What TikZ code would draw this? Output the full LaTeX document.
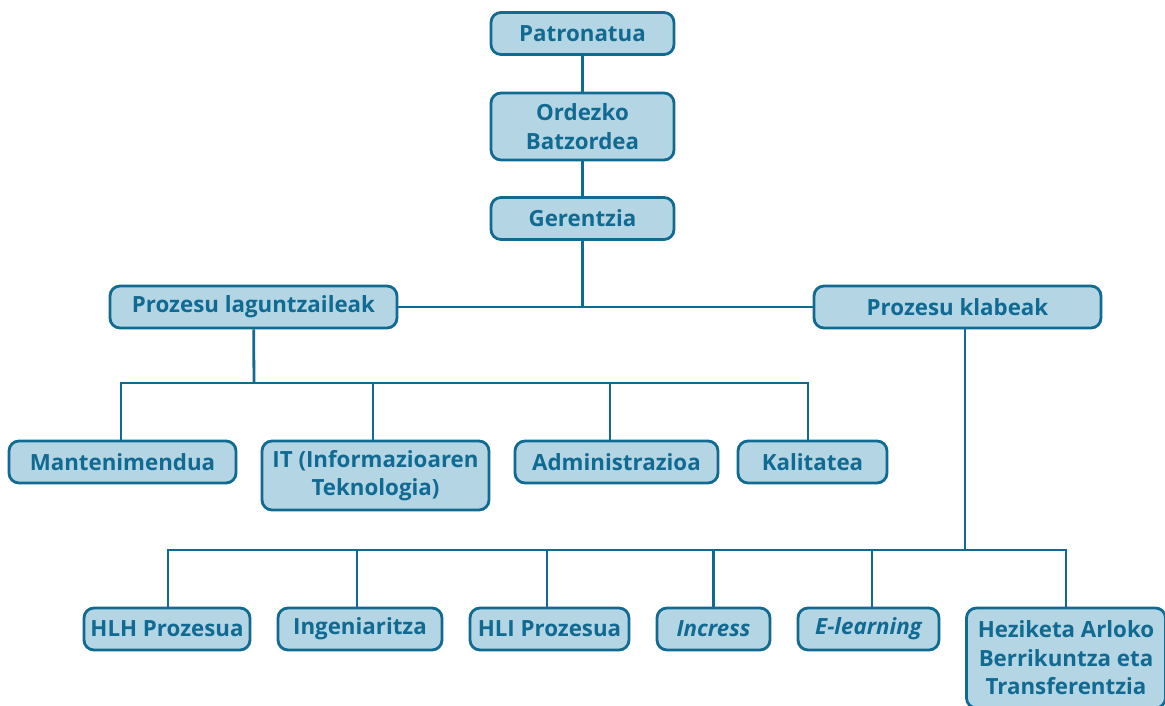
\documentclass[tikz,border=0pt]{standalone}
\usepackage{fontspec}
\setmainfont{Open Sans}
\definecolor{edge}{RGB}{16,106,145}
\definecolor{boxfill}{RGB}{180,213,228}
\begin{document}
\begin{tikzpicture}[x=1pt,y=-1pt,
  box/.style={draw=edge, fill=boxfill, line width=2.8pt, rounded corners=10pt,
    text=edge, font=\bfseries\fontsize{22.3}{28.5}\selectfont, align=center,
    inner sep=0pt, minimum height=42pt},
  link/.style={draw=edge, line width=2.8pt}]
\useasboundingbox (0,0) rectangle (1165,705);
\clip (0,0) rectangle (1165,705);
% top chain
\node[box, minimum width=183pt] (pat) at (582.5,33.5) {Patronatua};
\node[box, minimum width=183pt, minimum height=67pt] (ord) at (582.5,126.5) {Ordezko\\Batzordea};
\node[box, minimum width=183pt] (ger) at (582.5,218.5) {Gerentzia};
\node[box, minimum width=287pt] (pl) at (253.5,307) {Prozesu laguntzaileak};
\node[box, minimum width=287pt] (pk) at (957.5,307) {Prozesu klabeak};
% support processes
\node[box, minimum width=227pt] (man) at (122.5,462) {Mantenimendua};
\node[box, minimum width=227pt, minimum height=69pt] (it) at (375.5,475.5) {IT (Informazioaren\\Teknologia)};
\node[box, minimum width=203pt] (adm) at (616.5,462) {Administrazioa};
\node[box, minimum width=149pt] (kal) at (812.5,462) {Kalitatea};
% key processes
\node[box, minimum width=166pt] (hlh) at (167,629) {HLH Prozesua};
\node[box, minimum width=164pt] (ing) at (360,629) {Ingeniaritza};
\node[box, minimum width=159pt] (hli) at (549.5,629) {HLI Prozesua};
\node[box, minimum width=113pt] (inc) at (713.5,629) {\itshape Incress};
\node[box, minimum width=141pt] (ele) at (868.5,629) {\itshape E-learning};
\node[box, minimum width=199pt, minimum height=100pt] (hez) at (1066,658) {Heziketa Arloko\\Berrikuntza eta\\Transferentzia};
% connectors
\coordinate (j1) at (582.5,307);
\coordinate (busA) at (254,383);
\coordinate (busB) at (965,550);
\draw[link] (pat) -- (ord);
\draw[link] (ord) -- (ger);
\draw[link] (ger) -- (j1);
\draw[link] (pl) -- (pk);
\draw[link] (pl) -- (busA);
\draw[link] (busA) -| ([xshift=-1.5pt]man.north);
\draw[link] (busA) -| ([xshift=-2.5pt]it.north);
\draw[link] (busA) -| ([xshift=-6.5pt]adm.north);
\draw[link] (busA) -| ([xshift=-4.5pt]kal.north);
\draw[link] (pk.south -| busB) -- (busB);
\draw[link] (busB) -| ([xshift=1pt]hlh.north);
\draw[link] (busB) -| ([xshift=-3pt]ing.north);
\draw[link] (busB) -| ([xshift=-2.5pt]hli.north);
\draw[link] (busB) -| (inc.north);
\draw[link] (busB) -| ([xshift=3.5pt]ele.north);
\draw[link] (busB) -| (hez.north);
\end{tikzpicture}
\end{document}
